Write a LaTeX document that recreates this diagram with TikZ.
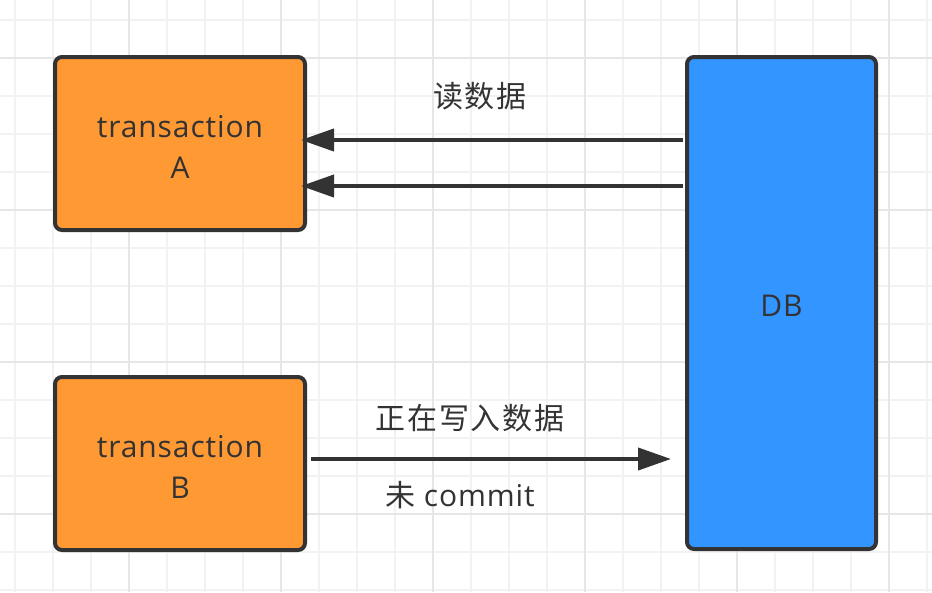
\documentclass[tikz,border=0pt]{standalone}
\usepackage{fontspec}
\setmainfont{Open Sans}[LetterSpace=3]
\newfontfamily\cjk{Noto Sans CJK SC}[LetterSpace=6]
\usetikzlibrary{arrows.meta}
\definecolor{ink}{HTML}{333333}
\definecolor{orangefill}{HTML}{FF9933}
\definecolor{bluefill}{HTML}{3395FF}
\definecolor{gridminor}{HTML}{F2F2F2}
\definecolor{gridmajor}{HTML}{E6E6E6}
\newcommand{\lowerstrut}{\rule{0pt}{29pt}}
\begin{document}
\begin{tikzpicture}[x=1pt,y=-1pt,
  box/.style={draw=ink, line width=4pt, rounded corners=7pt, inner sep=0pt, text=ink, align=center, font=\fontsize{30}{41}\selectfont},
  txbox/.style={box, fill=orangefill, minimum width=250pt, minimum height=173pt},
  dbbox/.style={box, fill=bluefill, minimum width=189pt, minimum height=492pt},
  arr/.style={draw=ink, line width=4pt, -{Triangle[length=33pt,width=22pt]}},
  lbl/.style={text=ink, inner sep=0pt, font=\fontsize{30}{34}\selectfont}]
\useasboundingbox (0,0) rectangle (932,592);
\fill[white] (0,0) rectangle (932,592);
\foreach \i in {0,...,24} {\draw[gridminor, line width=1.5pt] (15+38*\i,0) -- (15+38*\i,592);}
\foreach \j in {0,...,15} {\draw[gridminor, line width=1.5pt] (0,20+38*\j) -- (932,20+38*\j);}
\foreach \i in {3,7,...,23} {\draw[gridmajor, line width=1.8pt] (15+38*\i,0) -- (15+38*\i,592);}
\foreach \j in {1,5,9,13} {\draw[gridmajor, line width=1.8pt] (0,20+38*\j) -- (932,20+38*\j);}
\node[txbox] (A) at (180,143.5) {\lowerstrut transaction\\A};
\node[txbox] (B) at (180,463.5) {\lowerstrut transaction\\B};
\node[dbbox] (DB) at (781.5,303) {\rule{0pt}{27pt}DB};
\coordinate (r1) at (0,140);
\coordinate (r2) at (0,186);
\coordinate (w) at (0,459);
\draw[arr, shorten <=2pt, shorten >=-6pt] (DB.west |- r1) -- (A.east |- r1);
\draw[arr, shorten <=2pt, shorten >=-6pt] (DB.west |- r2) -- (A.east |- r2);
\draw[arr, shorten <=4pt, shorten >=14pt] (B.east |- w) -- (DB.west |- w);
\node[lbl] (l1) at (480,96) {\cjk 读数据};
\node[lbl] (l2) at (470,418) {\cjk 正在写入数据};
\node[lbl] (l3) at (460,495) {{\cjk 未} commit};
\end{tikzpicture}
\end{document}
